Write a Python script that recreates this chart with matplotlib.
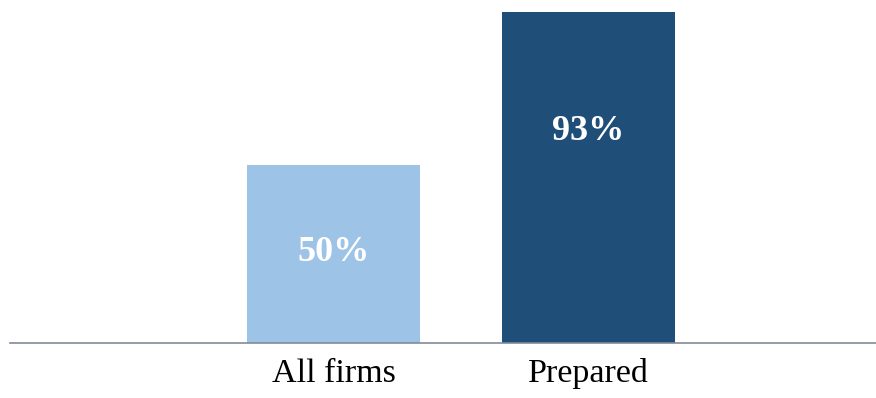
import matplotlib
matplotlib.use("Agg")
import matplotlib.pyplot as plt

# Share of firms (percent)
categorias = ["All firms", "Prepared"]
valores = [50, 93]
cores = ["#9DC3E6", "#1F4E79"]
# height of each value label, as a fraction of its bar
pos_rotulo = [0.51, 0.64]

plt.rcParams["font.family"] = ["Liberation Serif", "DejaVu Serif"]

fig = plt.figure(figsize=(8.76, 3.98), dpi=100)
ax = fig.add_axes([10 / 876, 55 / 398, 866 / 876, 343 / 398])

x = range(len(categorias))
ax.bar(x, valores, width=0.68, color=cores, zorder=2)

for xi, v, f in zip(x, valores, pos_rotulo):
    ax.text(xi, v * f, f"{v}%", ha="center", va="center",
            color="white", fontsize=26, fontweight="bold", zorder=3)

ax.set_xlim(-1.269, 2.127)
ax.set_ylim(0, 96.3)
ax.set_xticks(list(x))
ax.set_xticklabels(categorias, fontsize=24.5)
ax.tick_params(axis="x", length=0, pad=11)
ax.set_yticks([])

for lado in ["top", "right", "left"]:
    ax.spines[lado].set_visible(False)
ax.spines["bottom"].set_color("#7F8C9A")
ax.spines["bottom"].set_linewidth(1.2)

fig.savefig("out.png", dpi=100)
